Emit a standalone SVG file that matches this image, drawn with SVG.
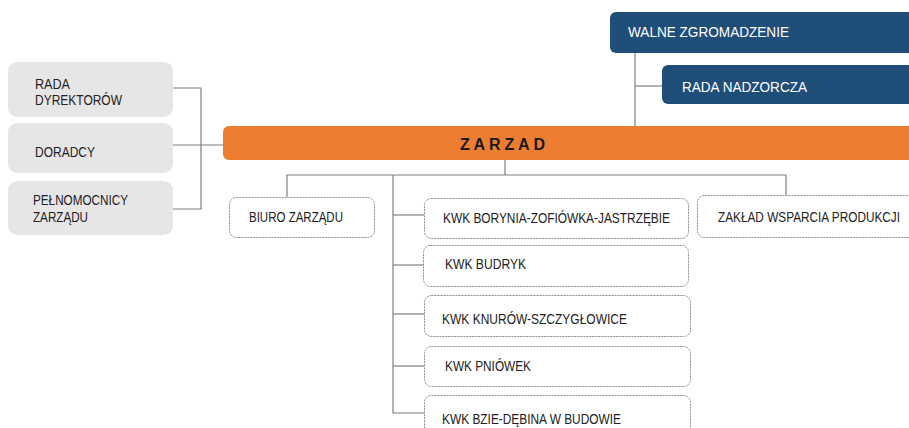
<svg xmlns="http://www.w3.org/2000/svg" width="909" height="428" viewBox="0 0 909 428">
<defs>
<style>
.t{font-family:"Liberation Sans",Arial,sans-serif;font-size:15px;fill:#222222}
.w{font-family:"Liberation Sans",Arial,sans-serif;font-size:15.5px;fill:#ffffff}
.grey{fill:#e7e6e6}
.navy{fill:#1f4e79}
.dash{fill:#ffffff;stroke:#8c8c8c;stroke-width:1;stroke-dasharray:2 1}
.ln{fill:none;stroke:#7f7f7f;stroke-width:1.2}
</style>
</defs>
<rect width="909" height="428" fill="#ffffff"/>
<g id="connectors">
<polyline class="ln" points="173,88 201,88 201,209 173,209"/>
<line class="ln" x1="173" y1="145" x2="223" y2="145"/>
<line class="ln" x1="635" y1="53" x2="635" y2="126"/>
<line class="ln" x1="635" y1="86" x2="662" y2="86"/>
<line class="ln" x1="505" y1="160" x2="505" y2="175"/>
<polyline class="ln" points="287,197 287,175 786,175 786,196"/>
<polyline class="ln" points="393,175 393,413 424,413"/>
<line class="ln" x1="393" y1="215" x2="424" y2="215"/>
<line class="ln" x1="393" y1="265" x2="424" y2="265"/>
<line class="ln" x1="393" y1="314" x2="424" y2="314"/>
<line class="ln" x1="393" y1="366" x2="424" y2="366"/>
</g>
<g id="rada-dyrektorow"><rect class="grey" x="8" y="62" width="165" height="55" rx="9"/><text class="t" x="35" y="89" textLength="35" lengthAdjust="spacingAndGlyphs">RADA</text><text class="t" x="35" y="105" textLength="87" lengthAdjust="spacingAndGlyphs">DYREKTORÓW</text></g>
<g id="doradcy"><rect class="grey" x="8" y="123" width="165" height="50" rx="9"/><text class="t" x="35" y="157" textLength="60" lengthAdjust="spacingAndGlyphs">DORADCY</text></g>
<g id="pelnomocnicy"><rect class="grey" x="8" y="181" width="165" height="54" rx="9"/><text class="t" x="33" y="205" textLength="95" lengthAdjust="spacingAndGlyphs">PEŁNOMOCNICY</text><text class="t" x="33" y="222" textLength="55" lengthAdjust="spacingAndGlyphs">ZARZĄDU</text></g>
<g id="walne"><rect class="navy" x="610" y="12" width="320" height="41" rx="6"/><text class="w" x="628" y="37" textLength="161" lengthAdjust="spacingAndGlyphs">WALNE ZGROMADZENIE</text></g>
<g id="rada-nadzorcza"><rect class="navy" x="662" y="65" width="268" height="39" rx="6"/><text class="w" x="682" y="92" textLength="125" lengthAdjust="spacingAndGlyphs">RADA NADZORCZA</text></g>
<g id="zarzad"><rect x="223" y="126" width="707" height="34" rx="6" fill="#ed7d31"/><text x="460" y="150" textLength="85" lengthAdjust="spacing" style="font-family:'Liberation Sans',Arial,sans-serif;font-size:16px;font-weight:bold;fill:#1a1a1a">ZARZAD</text></g>
<g id="biuro"><rect class="dash" x="229.5" y="197.5" width="145" height="40" rx="7"/><text class="t" x="249" y="222" textLength="94" lengthAdjust="spacingAndGlyphs">BIURO ZARZĄDU</text></g>
<g id="borynia"><rect class="dash" x="424.5" y="198.5" width="264" height="40" rx="7"/><text class="t" x="443" y="223" textLength="227" lengthAdjust="spacingAndGlyphs">KWK BORYNIA-ZOFIÓWKA-JASTRZĘBIE</text></g>
<g id="zaklad"><rect class="dash" x="697.5" y="195.5" width="240" height="42" rx="7"/><text class="t" x="718" y="222" textLength="182" lengthAdjust="spacingAndGlyphs">ZAKŁAD WSPARCIA PRODUKCJI</text></g>
<g id="budryk"><rect class="dash" x="423.5" y="245.5" width="265" height="41" rx="7"/><text class="t" x="445" y="269" textLength="81" lengthAdjust="spacingAndGlyphs">KWK BUDRYK</text></g>
<g id="knurow"><rect class="dash" x="424.5" y="295.5" width="266" height="41" rx="7"/><text class="t" x="442" y="324" textLength="185" lengthAdjust="spacingAndGlyphs">KWK KNURÓW-SZCZYGŁOWICE</text></g>
<g id="pniowek"><rect class="dash" x="424.5" y="346.5" width="266" height="40" rx="7"/><text class="t" x="445" y="371" textLength="86" lengthAdjust="spacingAndGlyphs">KWK PNIÓWEK</text></g>
<g id="bzie"><rect class="dash" x="424.5" y="395.5" width="266" height="45" rx="7"/><text class="t" x="442" y="424" textLength="179" lengthAdjust="spacingAndGlyphs">KWK BZIE-DĘBINA W BUDOWIE</text></g>
</svg>
